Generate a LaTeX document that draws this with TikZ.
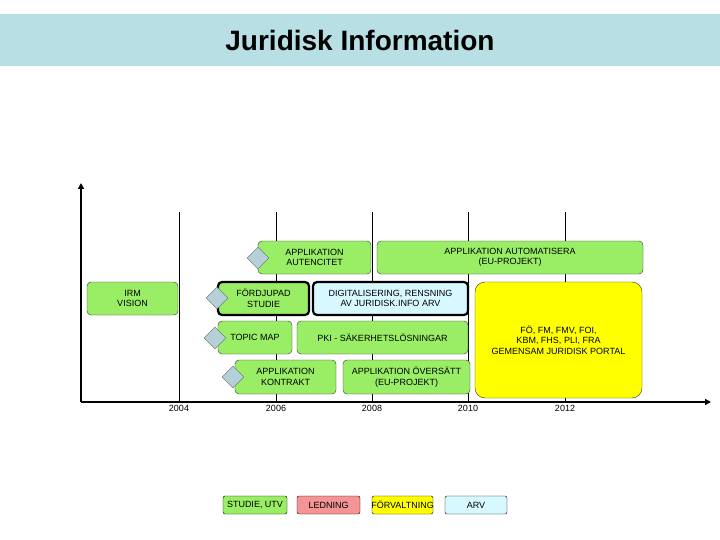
\documentclass[tikz,border=0pt]{standalone}
\usepackage{fontspec}
\setmainfont{Liberation Sans}
\usetikzlibrary{shapes.geometric,arrows.meta}
\definecolor{grn}{HTML}{99EE66}
\definecolor{band}{HTML}{B8DFE3}
\definecolor{arv}{HTML}{D8F8FF}
\definecolor{led}{HTML}{F49494}
\definecolor{yel}{HTML}{FFFF00}
\definecolor{dia}{HTML}{B5D0D8}
\tikzset{
 box/.style={draw=black!80,fill=grn,rounded corners=4pt,font=\fontsize{9}{10.5}\selectfont,align=center,inner sep=0pt},
 dm/.style={diamond,draw=black!60,fill=dia,minimum width=22pt,minimum height=22pt,inner sep=0pt},
 grid/.style={draw=black,line width=0.6pt},
 yr/.style={font=\fontsize{9}{10}\selectfont},
 leg/.style={draw=black,rounded corners=2pt,font=\fontsize{9}{10}\selectfont,inner sep=0pt,minimum height=18pt}
}
\begin{document}
\begin{tikzpicture}[x=1pt,y=-1pt]
\useasboundingbox (0,0) rectangle (720,540);
\fill[band] (0,14) rectangle (720,66);
\node (title) at (360,40) {\fontsize{28}{30}\selectfont\bfseries Juridisk Information};
% grid
\foreach \x/\n in {179/a,276/b,372/c,468/d,565/e}{\draw[grid] (\x,212) -- (\x,402);}
\coordinate (o) at (81,402);
\coordinate (top) at (81,183);
\coordinate (right) at (711,402);
\draw[line width=1.5pt,-{Triangle[length=6pt,width=6pt]}] (o) -- (top);
\draw[line width=1.5pt,-{Triangle[length=6pt,width=6pt]}] (o) -- (right);
\foreach \x/\y in {179/2004,276/2006,372/2008,468/2010,565/2012}{\node[yr] (y\y) at (\x,408) {\y};}
% yellow
\node[box,fill=yel,minimum width=167pt,minimum height=116pt,rounded corners=10pt] (yb) at (558.5,340) {FÖ, FM, FMV, FOI,\\KBM, FHS, PLI, FRA\\GEMENSAM JURIDISK PORTAL};
% boxes
\node[box,minimum width=113pt,minimum height=33pt] (aut) at (314.5,257.5) {APPLIKATION\\AUTENCITET};
\node[box,minimum width=266pt,minimum height=33pt] (ato) at (510,257.5) {APPLIKATION AUTOMATISERA\\(EU-PROJEKT)};
\node[box,minimum width=91pt,minimum height=33pt] (irm) at (132.5,298.5) {IRM\\VISION};
\node[box,line width=2.2pt,draw=black,minimum width=91pt,minimum height=33pt] (fs) at (263.5,298.5) {FÖRDJUPAD\\STUDIE};
\node[box,fill=arv,line width=2.2pt,draw=black,minimum width=155pt,minimum height=33pt] (dig) at (390.5,298.5) {DIGITALISERING, RENSNING\\AV JURIDISK.INFO ARV};
\node[box,minimum width=74pt,minimum height=33pt] (tm) at (255,337.5) {TOPIC MAP};
\node[box,minimum width=171pt,minimum height=33pt] (pki) at (382.5,337.5) {PKI - SÄKERHETSLÖSNINGAR};
\node[box,minimum width=101pt,minimum height=34pt] (kon) at (285.5,377) {APPLIKATION\\KONTRAKT};
\node[box,minimum width=127pt,minimum height=34pt] (ovs) at (406.5,377) {APPLIKATION ÖVERSÄTT\\(EU-PROJEKT)};
% diamonds
\node[dm] (d1) at (258,258) {};
\node[dm] (d2) at (217,298) {};
\node[dm] (d3) at (215,338) {};
\node[dm] (d4) at (233,377) {};
% legend
\node[leg,fill=grn,minimum width=64pt] (l1) at (255,505) {STUDIE, UTV};
\node[leg,fill=led,minimum width=63pt] (l2) at (328.5,505) {LEDNING};
\node[leg,fill=yel,minimum width=61pt] (l3) at (402.5,505) {};
\node[font=\fontsize{9}{10}\selectfont] (l3t) at (402.5,505) {FÖRVALTNING};
\node[leg,fill=arv,minimum width=62pt] (l4) at (476,505) {ARV};
\end{tikzpicture}
\end{document}
